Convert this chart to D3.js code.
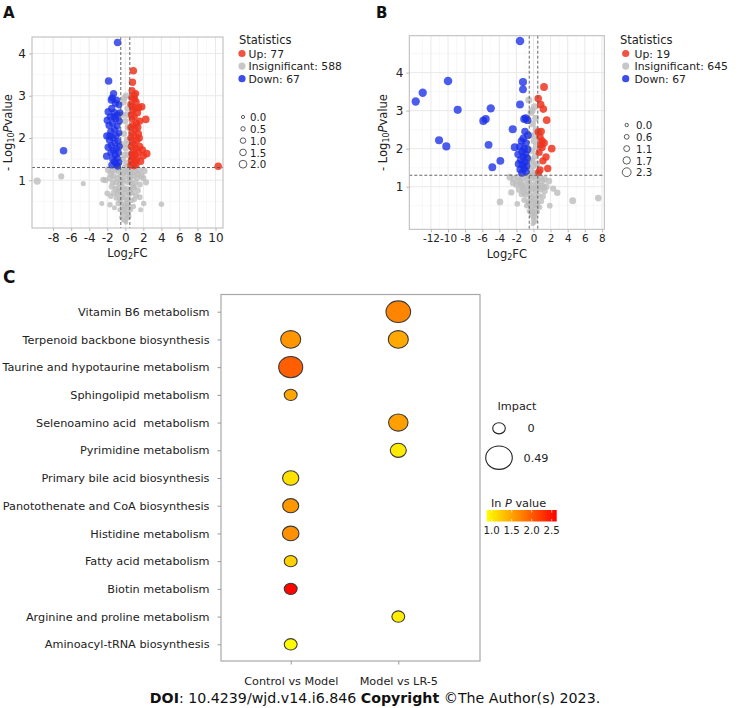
<!DOCTYPE html>
<html><head><meta charset="utf-8">
<script src="https://cdn.jsdelivr.net/npm/d3@7"></script>
<style>body{margin:0;background:#fff} svg{display:block;font-family:"DejaVu Sans",Verdana,sans-serif}</style>
</head><body><svg id="c" width="750" height="708"></svg>
<script>
// ---------------- DATA ----------------
// Panel A : [log2FC, -log10 P, size]
const aUp = [[0.89,3.59,1.9],[0.8,3.32,1.8],[0.75,3.12,1.7],[0.95,3.0,1.8],[0.7,2.95,1.6],[1.05,2.92,1.7],[1.2,2.85,1.8],[1.82,2.74,1.9],[1.5,2.72,1.8],[1.1,2.7,1.7],[0.6,2.8,1.6],[0.85,2.65,1.7],[1.35,2.6,1.8],[0.65,2.55,1.6],[1.0,2.5,1.7],[2.27,2.44,1.9],[0.75,2.45,1.6],[1.6,2.4,1.8],[1.25,2.35,1.7],[0.9,2.3,1.7],[0.6,2.25,1.6],[1.1,2.2,1.7],[0.7,2.12,1.6],[1.45,2.1,1.8],[0.95,2.05,1.7],[0.6,2.0,1.6],[1.3,1.95,1.7],[0.8,1.9,1.6],[1.0,1.85,1.7],[1.6,1.8,1.8],[0.65,1.8,1.6],[1.2,1.75,1.7],[1.9,1.72,1.8],[0.9,1.7,1.7],[2.38,1.63,1.9],[1.45,1.65,1.7],[0.7,1.62,1.6],[1.1,1.6,1.7],[2.0,1.58,1.8],[0.8,1.55,1.6],[1.3,1.5,1.7],[0.65,1.48,1.6],[1.05,1.45,1.7],[1.7,1.45,1.8],[0.85,1.4,1.6],[0.6,1.36,1.6],[1.2,1.37,1.7],[0.95,1.34,1.6],[10.3,1.33,1.9],[1.55,2.0,1.8],[0.75,2.75,1.6],[1.15,3.05,1.7],[1.4,2.25,1.7]];
const aDown = [[-0.85,4.26,1.9],[-1.85,3.35,1.9],[-1.3,3.05,1.8],[-1.45,2.95,1.8],[-0.95,2.9,1.7],[-1.1,2.82,1.7],[-0.7,2.78,1.6],[-1.5,2.7,1.8],[-1.9,2.62,1.8],[-1.2,2.6,1.7],[-0.85,2.55,1.6],[-1.65,2.5,1.8],[-2.0,2.42,1.8],[-1.05,2.45,1.7],[-0.65,2.4,1.6],[-1.4,2.35,1.7],[-1.8,2.3,1.8],[-0.9,2.28,1.6],[-1.2,2.2,1.7],[-1.6,2.15,1.8],[-0.7,2.12,1.6],[-2.05,2.05,1.8],[-1.0,2.05,1.7],[-1.35,2.0,1.7],[-1.75,1.95,1.8],[-0.8,1.92,1.6],[-1.15,1.88,1.7],[-1.55,1.82,1.7],[-0.65,1.8,1.6],[-1.9,1.78,1.8],[-1.0,1.75,1.7],[-1.3,1.7,1.7],[-6.84,1.70,1.9],[-0.75,1.65,1.6],[-1.6,1.65,1.7],[-2.07,1.57,1.8],[-1.1,1.6,1.7],[-0.9,1.52,1.6],[-1.4,1.5,1.7],[-1.2,1.44,1.7],[-0.7,1.42,1.6],[-1.0,1.38,1.6],[-1.5,1.36,1.7],[-0.85,1.33,1.6],[-1.25,2.5,1.7],[-1.7,2.05,1.8],[-0.6,2.6,1.6],[-1.55,2.9,1.8]];
const aInsig = [[-9.77,0.98,1.8],[-7.1,1.09,1.3],[-4.65,0.92,0.8],[-1.7,0.42,1.0],[2.04,0.45,1.0],[4.0,0.43,1.0],[-2.44,1.01,1.2],
 [0.1,3.0,1.5],[-0.2,2.85,1.5],[0.25,2.7,1.4],[-0.3,2.55,1.5],[0.0,2.4,1.4],[0.3,2.25,1.5],[-0.15,2.1,1.4],[0.2,1.95,1.5],[-0.35,1.85,1.5],[0.05,1.75,1.4],[0.35,1.6,1.5],[-0.25,1.5,1.4],[0.15,1.4,1.5],[-0.05,1.3,1.4],
 [-1.9,1.25,1.5],[-1.5,1.22,1.4],[-1.1,1.25,1.4],[-0.7,1.2,1.4],[-0.3,1.18,1.3],[0.3,1.22,1.4],[0.7,1.25,1.4],[1.1,1.2,1.4],[1.5,1.24,1.5],[2.1,1.22,1.5],[-1.3,1.1,1.3],[-0.9,1.05,1.3],[-0.5,1.08,1.3],[0.1,1.1,1.3],[0.5,1.05,1.3],[0.9,1.1,1.3],[1.3,1.05,1.3],[1.8,1.1,1.4],[-1.7,1.05,1.4],[-2.2,1.0,1.2],[-1.0,0.95,1.3],[-0.6,0.92,1.2],[-0.2,0.98,1.2],[0.3,0.95,1.2],[0.7,0.92,1.2],[1.1,0.95,1.3],[1.6,0.9,1.3],[2.3,0.95,1.3],
 [-1.5,0.85,1.3],[-1.1,0.8,1.2],[-0.7,0.82,1.2],[-0.3,0.85,1.1],[0.2,0.8,1.1],[0.6,0.78,1.1],[1.0,0.82,1.2],[1.4,0.76,1.2],[-1.3,0.7,1.2],[-0.9,0.68,1.1],[-0.5,0.72,1.1],[0.0,0.7,1.0],[0.4,0.66,1.0],[0.8,0.7,1.1],[1.2,0.64,1.1],[-2.0,0.69,1.1],[-1.0,0.58,1.0],[-0.6,0.55,1.0],[-0.2,0.6,1.0],[0.3,0.55,1.0],[0.7,0.52,1.0],[1.6,0.6,1.1],
 [-0.8,0.45,0.9],[-0.4,0.42,0.9],[0.0,0.45,0.9],[0.4,0.4,0.9],[0.9,0.38,0.9],[-1.2,0.35,0.8],[-0.6,0.3,0.8],[-0.2,0.32,0.8],[0.2,0.28,0.8],[0.6,0.3,0.8],[-0.35,0.2,0.7],[0.05,0.18,0.7],[0.35,0.2,0.7],[-0.15,0.1,0.6],[0.15,0.08,0.6],[0.0,0.03,0.5],[-0.45,0.12,0.6],[0.45,0.14,0.6],[-2.6,0.45,0.8],[1.7,0.3,0.8],
 [-1.6,1.15,1.4],[-0.8,1.28,1.4],[0.0,1.2,1.4],[0.6,1.15,1.3],[1.4,1.15,1.4],[2.0,1.05,1.3],[-1.4,0.95,1.2],[-0.4,1.0,1.2],[0.5,0.98,1.2],[0.9,0.85,1.2],[-0.8,0.75,1.1],[-0.1,0.78,1.1],[0.5,0.7,1.1],[-1.6,0.62,1.0],[-0.4,0.62,1.0],[0.1,0.55,1.0],[1.0,0.55,1.0],[-0.5,0.5,0.9],[0.25,0.45,0.9],[-0.1,0.38,0.8],[0.2,0.36,0.8],[-0.3,0.27,0.7],[0.0,0.24,0.7],[0.25,0.12,0.6],[-0.25,0.05,0.5],[0.1,0.0,0.5],[-0.1,1.6,1.4],[0.2,2.55,1.4],[-0.1,2.95,1.4],[0.3,1.85,1.4]];
const aCounts = ["Up: 77","Insignificant: 588","Down: 67"];
const aXTicks = [-8,-6,-4,-2,0,2,4,6,8,10];
const aYTicks = [1,2,3,4];
const aSizeTicks = ["0.0","0.5","1.0","1.5","2.0"];

// Panel B
const bUp = [[1.23,3.62,1.9],[0.55,3.32,1.8],[0.84,3.16,1.8],[1.15,3.04,1.8],[1.54,2.75,1.8],[0.55,2.44,1.7],[0.76,2.3,1.7],[1.0,2.2,1.7],[0.85,2.1,1.7],[1.0,2.03,1.7],[2.13,2.0,1.8],[1.46,1.78,1.7],[1.1,1.68,1.7],[0.76,1.44,1.7],[1.66,1.48,1.7],[0.6,1.38,1.6],[0.9,2.45,1.7],[1.25,2.15,1.7],[0.65,1.9,1.6]];
const bDown = [[-1.58,4.83,2.2],[-13.78,3.24,2.1],[-12.96,3.47,2.1],[-10.0,3.78,2.2],[-8.87,3.02,2.0],[-11.05,2.22,2.0],[-10.2,2.06,2.0],[-5.59,2.78,2.0],[-5.87,2.73,2.0],[-5.0,3.06,2.1],[-5.26,2.1,1.9],[-4.82,1.51,1.9],[-3.88,1.68,1.9],[-2.43,2.51,2.0],[-2.2,2.04,1.9],[-1.23,3.75,2.0],[-1.23,3.56,1.9],[-1.58,3.16,1.9],[-0.91,2.8,1.9],[-0.7,2.75,1.9],[-1.1,2.78,1.9],
 [-1.2,2.27,1.8],[-1.4,2.2,1.8],[-0.9,2.15,1.8],[-1.6,2.05,1.8],[-1.1,2.0,1.8],[-0.7,1.98,1.8],[-1.35,1.92,1.8],[-1.8,1.85,1.8],[-0.95,1.85,1.8],[-1.2,1.78,1.8],[-0.75,1.75,1.8],[-1.5,1.7,1.8],[-1.0,1.65,1.8],[-1.75,1.6,1.8],[-1.3,1.58,1.8],[-0.8,1.55,1.8],[-1.1,1.48,1.8],[-1.55,1.45,1.8],[-0.9,1.4,1.8],[-1.35,1.36,1.8],[-0.65,2.35,1.8],[-1.0,2.45,1.8]];
const bInsig = [[-0.54,3.28,1.6],[0.1,3.1,1.5],[-0.3,2.95,1.5],[0.25,2.8,1.5],[-0.1,2.65,1.4],[0.3,2.5,1.5],[-0.35,2.35,1.5],[0.05,2.2,1.4],[0.35,2.05,1.5],[-0.2,1.95,1.4],[0.2,1.8,1.4],[-0.4,1.7,1.5],[0.0,1.55,1.4],[0.4,1.6,1.4],[-0.25,1.42,1.4],[0.15,1.35,1.4],
 [-2.76,1.25,1.5],[-2.3,1.2,1.4],[-1.8,1.25,1.4],[-1.3,1.22,1.4],[-0.8,1.2,1.3],[-0.3,1.22,1.3],[0.3,1.2,1.3],[0.8,1.24,1.3],[1.3,1.2,1.4],[1.8,1.15,1.4],[-2.0,1.05,1.3],[-1.5,1.08,1.3],[-1.0,1.05,1.2],[-0.5,1.1,1.2],[0.0,1.05,1.2],[0.5,1.08,1.2],[1.0,1.02,1.2],[1.5,1.0,1.3],[-1.7,0.92,1.2],[-1.2,0.95,1.2],[-0.7,0.9,1.1],[-0.2,0.93,1.1],[0.3,0.9,1.1],[0.8,0.92,1.1],[1.3,0.88,1.2],[-1.4,0.8,1.1],[-0.9,0.78,1.1],[-0.4,0.8,1.0],[0.1,0.78,1.0],[0.6,0.76,1.0],[1.1,0.74,1.1],[-1.1,0.65,1.0],[-0.6,0.62,1.0],[-0.1,0.64,0.9],[0.4,0.6,0.9],[0.9,0.62,1.0],[-0.8,0.5,0.9],[-0.3,0.48,0.9],[0.2,0.5,0.8],[0.7,0.46,0.9],[-0.5,0.36,0.8],[0.0,0.35,0.8],[0.45,0.34,0.8],[-0.25,0.24,0.7],[0.2,0.22,0.7],[-0.05,0.12,0.6],[0.1,0.05,0.5],
 [-3.92,0.6,1.4],[2.78,0.84,1.3],[4.58,0.63,1.5],[7.58,0.70,1.4],[-1.9,0.55,1.0],[1.9,0.5,1.0],[-2.6,0.85,1.2],[2.3,0.95,1.2],
 [-2.4,1.1,1.3],[-1.6,1.15,1.3],[-0.6,1.28,1.3],[0.1,1.28,1.3],[1.0,1.15,1.3],[-1.1,0.85,1.1],[-0.5,0.98,1.1],[0.05,0.95,1.1],[0.55,0.98,1.1],[-0.3,0.7,1.0],[0.25,0.68,1.0],[-0.6,0.55,0.9],[0.0,0.55,0.9],[0.45,0.52,0.9],[-0.25,0.4,0.8],[0.25,0.42,0.8],[-0.15,0.3,0.7],[0.1,0.28,0.7],[0.0,0.18,0.6],[-0.1,0.02,0.5],[0.25,0.1,0.6],[-1.3,1.0,1.2],[1.2,0.98,1.2],[-0.15,1.7,1.4],[0.2,2.35,1.4],[-0.15,3.0,1.4]];
const bCounts = ["Up: 19","Insignificant: 645","Down: 67"];
const bXTicks = [-12,-10,-8,-6,-4,-2,0,2,4,6,8];
const bYTicks = [1,2,3,4];
const bSizeTicks = ["0.0","0.6","1.1","1.7","2.3"];

// Panel C
const pathways = ["Vitamin B6 metabolism","Terpenoid backbone biosynthesis","Taurine and hypotaurine metabolism","Sphingolipid metabolism","Selenoamino acid  metabolism","Pyrimidine metabolism","Primary bile acid biosynthesis","Panotothenate and CoA biosynthesis","Histidine metabolism","Fatty acid metabolism","Biotin metabolism","Arginine and proline metabolism","Aminoacyl-tRNA biosynthesis"];
const comparisons = ["Control vs Model","Model vs LR-5"];
const bubblePathway = ["Vitamin B6 metabolism","Terpenoid backbone biosynthesis","Terpenoid backbone biosynthesis","Taurine and hypotaurine metabolism","Sphingolipid metabolism","Selenoamino acid  metabolism","Pyrimidine metabolism","Primary bile acid biosynthesis","Panotothenate and CoA biosynthesis","Histidine metabolism","Fatty acid metabolism","Biotin metabolism","Arginine and proline metabolism","Aminoacyl-tRNA biosynthesis"];
const bubbleComparison = ["Model vs LR-5","Control vs Model","Model vs LR-5","Control vs Model","Control vs Model","Model vs LR-5","Model vs LR-5","Control vs Model","Control vs Model","Control vs Model","Control vs Model","Control vs Model","Model vs LR-5","Control vs Model"];
const bubbleImpact = [0.42,0.26,0.26,0.40,0.01,0.24,0.12,0.13,0.12,0.14,0.01,0.01,0.01,0.01];
const bubbleLnP = [1.72,1.60,1.47,1.97,1.49,1.53,1.01,1.09,1.58,1.64,1.20,2.60,0.99,0.90];
const impactTicks = [0,0.49];
const lnPTicks = [1.0,1.5,2.0,2.5];

// ---------------- DRAW ----------------
const svg = d3.select("#c");
const RED="#F0341E", BLUE="#1A2EE8", GREY="#BDBDBD";

function volcano(o){
  const g = svg.append("g");
  const x = d3.scaleLinear().domain(o.xDomain).range([o.left,o.right]);
  const y = d3.scaleLinear().domain(o.yDomain).range([o.bottom,o.top]);
  const r = d3.scaleLinear().domain([0,o.sizeMax]).range(o.rRange);
  const xMinor = o.xTicks.map(t=>t-1).concat([o.xTicks[o.xTicks.length-1]+1]);
  const yMinor = o.yTicks.map(t=>t-0.5).concat([o.yTicks[o.yTicks.length-1]+0.5]);
  const clipId = "clip"+o.id;
  svg.append("clipPath").attr("id",clipId).append("rect")
     .attr("x",o.left).attr("y",o.top).attr("width",o.right-o.left).attr("height",o.bottom-o.top);
  const grid = g.append("g");
  grid.selectAll(".mx").data(xMinor.filter(v=>v>o.xDomain[0]&&v<o.xDomain[1])).join("line")
    .attr("x1",d=>x(d)).attr("x2",d=>x(d)).attr("y1",o.top).attr("y2",o.bottom).attr("stroke","#F4F4F4").attr("stroke-width",0.6);
  grid.selectAll(".my").data(yMinor.filter(v=>v>o.yDomain[0]&&v<o.yDomain[1])).join("line")
    .attr("y1",d=>y(d)).attr("y2",d=>y(d)).attr("x1",o.left).attr("x2",o.right).attr("stroke","#F4F4F4").attr("stroke-width",0.6);
  grid.selectAll(".Mx").data(o.xTicks).join("line")
    .attr("x1",d=>x(d)).attr("x2",d=>x(d)).attr("y1",o.top).attr("y2",o.bottom).attr("stroke","#E6E6E6").attr("stroke-width",0.9);
  grid.selectAll(".My").data(o.yTicks).join("line")
    .attr("y1",d=>y(d)).attr("y2",d=>y(d)).attr("x1",o.left).attr("x2",o.right).attr("stroke","#E6E6E6").attr("stroke-width",0.9);

  const pts = g.append("g").attr("clip-path",`url(#${clipId})`);
  [[o.insig,GREY,0.8],[o.down,BLUE,0.78],[o.up,RED,0.85]].forEach(([data,col,op])=>{
    pts.append("g").selectAll("circle").data(data).join("circle")
      .attr("cx",d=>x(d[0])).attr("cy",d=>y(d[1])).attr("r",d=>r(d[2]))
      .attr("fill",col).attr("fill-opacity",op);
  });
  const th = g.append("g").attr("stroke","#555").attr("stroke-dasharray","3,2").attr("stroke-width",0.9);
  [-0.5,0.5].forEach(v=>th.append("line").attr("x1",x(v)).attr("x2",x(v)).attr("y1",o.top).attr("y2",o.bottom));
  th.append("line").attr("x1",o.left).attr("x2",o.right).attr("y1",y(-Math.log10(0.05))).attr("y2",y(-Math.log10(0.05)));
  g.append("rect").attr("x",o.left).attr("y",o.top).attr("width",o.right-o.left).attr("height",o.bottom-o.top)
    .attr("fill","none").attr("stroke","#B8B8B8").attr("stroke-width",1);
  const ax = g.append("g").attr("transform",`translate(0,${o.bottom})`)
    .call(d3.axisBottom(x).tickValues(o.xTicks).tickFormat(d=>String(d)).tickSize(3).tickPadding(2));
  const ay = g.append("g").attr("transform",`translate(${o.left},0)`)
    .call(d3.axisLeft(y).tickValues(o.yTicks).tickFormat(d=>String(d)).tickSize(3).tickPadding(3));
  [ax,ay].forEach(a=>{
    a.select(".domain").remove();
    a.selectAll(".tick line").attr("stroke","#B8B8B8");
    a.selectAll("text").attr("font-family","DejaVu Sans").attr("font-size",12).attr("fill","#222");
  });
  ax.selectAll("text").attr("font-size",o.xTickFont);
  const xt = g.append("text").attr("x",(o.left+o.right)/2).attr("y",o.bottom+29).attr("text-anchor","middle")
    .attr("font-size",11.5).attr("fill","#222");
  xt.append("tspan").text("Log");
  xt.append("tspan").attr("font-size",8).attr("dy",2).text("2");
  xt.append("tspan").attr("dy",-2).text("FC");
  const yt = g.append("text").attr("transform",`translate(${o.ytx},${(o.top+o.bottom)/2}) rotate(-90)`)
    .attr("text-anchor","middle").attr("font-size",11.5).attr("fill","#222");
  yt.append("tspan").text("- Log");
  yt.append("tspan").attr("font-size",8).attr("dy",2).text("10");
  yt.append("tspan").attr("font-style","italic").attr("dy",-2).text("P");
  yt.append("tspan").text("value");
  g.append("text").attr("x",o.letterX).attr("y",18).attr("font-weight","bold").attr("font-size",15).attr("fill","#111").text(o.letter);
  const lg = g.append("g").attr("fill","#222");
  lg.append("text").attr("x",o.legX).attr("y",43.5).attr("font-size",11.5).text("Statistics");
  const cols=[RED,GREY,BLUE];
  o.counts.forEach((t,i)=>{
    lg.append("circle").attr("cx",o.legDotX).attr("cy",53.5+i*12.6).attr("r",3.6).attr("fill",cols[i]).attr("fill-opacity",0.85);
    lg.append("text").attr("x",o.legTextX).attr("y",57.6+i*12.6).attr("font-size",10.8).text(t);
  });
  o.sizeTicks.forEach((t,i)=>{
    const cy = o.sizeY0 + i*o.sizeDY;
    lg.append("circle").attr("cx",o.legDotX+1).attr("cy",cy).attr("r",r(+t)).attr("fill","none").attr("stroke","#333").attr("stroke-width",0.8);
    lg.append("text").attr("x",o.legTextX+1.5).attr("y",cy+4.2).attr("font-size",10.2).text(t);
  });
}

volcano({id:"A",letter:"A",letterX:3,left:32,right:223,top:37,bottom:228,xDomain:[-10.34,10.83],yDomain:[-0.13,4.39],
  xTicks:aXTicks,yTicks:aYTicks,up:aUp,down:aDown,insig:aInsig,sizeMax:2,rRange:[1.6,3.9],ytx:11.5,xTickFont:12,
  counts:aCounts,legX:239,legDotX:242,legTextX:248.5,sizeTicks:aSizeTicks,sizeY0:117,sizeDY:11.8});
volcano({id:"B",letter:"B",letterX:376,left:409.3,right:604.3,top:35.7,bottom:229.3,xDomain:[-14.53,8.28],yDomain:[-0.12,4.97],
  xTicks:bXTicks,yTicks:bYTicks,up:bUp,down:bDown,insig:bInsig,sizeMax:2.3,rRange:[1.7,4.4],ytx:387,xTickFont:10.4,
  counts:bCounts,legX:620,legDotX:625.7,legTextX:634.5,sizeTicks:bSizeTicks,sizeY0:125,sizeDY:11.8});

// ---- Panel C ----
const C = {left:221,right:480,top:294.5,bottom:661};
const gc = svg.append("g");
const yC = d3.scalePoint().domain(pathways).range([311.7,644.3]);
const xC = d3.scalePoint().domain(comparisons).range([290.7,398.3]);
const rx = d3.scaleLinear().domain([0,0.49]).range([6.3,13.3]);
const col = d3.scaleLinear().domain([0.875,2.625]).range(["#ffff00","#ff0000"]).clamp(true);
gc.append("text").attr("x",3).attr("y",283).attr("font-weight","bold").attr("font-size",17).attr("fill","#111").text("C");
gc.append("rect").attr("x",C.left).attr("y",C.top).attr("width",C.right-C.left).attr("height",C.bottom-C.top)
  .attr("fill","none").attr("stroke","#A8A8A8").attr("stroke-width",1.2);
const axL = gc.append("g").attr("transform",`translate(${C.left},0)`).call(d3.axisLeft(yC).tickSize(3.5).tickPadding(8));
const axB = gc.append("g").attr("transform",`translate(0,${C.bottom})`).call(d3.axisBottom(xC).tickSize(3.5).tickPadding(13));
[axL,axB].forEach(a=>{
  a.select(".domain").remove();
  a.selectAll(".tick line").attr("stroke","#999");
  a.selectAll("text").attr("font-family","DejaVu Sans").attr("font-size",11.25).attr("fill","#222").style("white-space","pre");
});
gc.append("g").selectAll("ellipse").data(d3.range(bubblePathway.length)).join("ellipse")
  .attr("cx",i=>xC(bubbleComparison[i])).attr("cy",i=>yC(bubblePathway[i]))
  .attr("rx",i=>rx(bubbleImpact[i])).attr("ry",i=>rx(bubbleImpact[i])*0.88)
  .attr("fill",i=>col(bubbleLnP[i])).attr("stroke","#3a3a3a").attr("stroke-width",1.1);

const lc = gc.append("g").attr("font-size",11.25).attr("fill","#222");
lc.append("text").attr("x",497.5).attr("y",410).text("Impact");
impactTicks.forEach((v,i)=>{
  const cy = [428.3,457.7][i];
  lc.append("ellipse").attr("cx",499).attr("cy",cy).attr("rx",rx(v)).attr("ry",rx(v)*0.88)
    .attr("fill","none").attr("stroke","#222").attr("stroke-width",1.1);
  lc.append("text").attr("x",[531,536][i]).attr("y",cy+4).attr("text-anchor","middle").text(String(v));
});
const lt = lc.append("text").attr("x",491).attr("y",506.5);
lt.append("tspan").text("In ");
lt.append("tspan").attr("font-style","italic").text("P");
lt.append("tspan").text(" value");
const cb = d3.scaleLinear().domain([0.875,2.625]).range([486.7,556.7]);
const grad = svg.append("defs").append("linearGradient").attr("id","cbg");
grad.append("stop").attr("offset","0%").attr("stop-color",col(0.875));
grad.append("stop").attr("offset","100%").attr("stop-color",col(2.625));
lc.append("rect").attr("x",cb(0.875)).attr("y",510).attr("width",cb(2.625)-cb(0.875)).attr("height",11.5).attr("fill","url(#cbg)");
lnPTicks.forEach(v=>{
  lc.append("line").attr("x1",cb(v)).attr("x2",cb(v)).attr("y1",510).attr("y2",512.5).attr("stroke","#fff").attr("stroke-opacity",0.6);
  lc.append("line").attr("x1",cb(v)).attr("x2",cb(v)).attr("y1",519).attr("y2",521.5).attr("stroke","#fff").attr("stroke-opacity",0.6);
  lc.append("text").attr("x",cb(v)).attr("y",533.5).attr("text-anchor","middle").attr("font-size",10.2).text(v.toFixed(1));
});

const ft = svg.append("text").attr("x",375).attr("y",702.5).attr("text-anchor","middle").attr("font-size",14.2).attr("fill","#111");
ft.append("tspan").attr("font-weight","bold").text("DOI");
ft.append("tspan").text(": 10.4239/wjd.v14.i6.846 ");
ft.append("tspan").attr("font-weight","bold").text("Copyright");
ft.append("tspan").text(" \u00A9The Author(s) 2023.");
</script></body></html>
